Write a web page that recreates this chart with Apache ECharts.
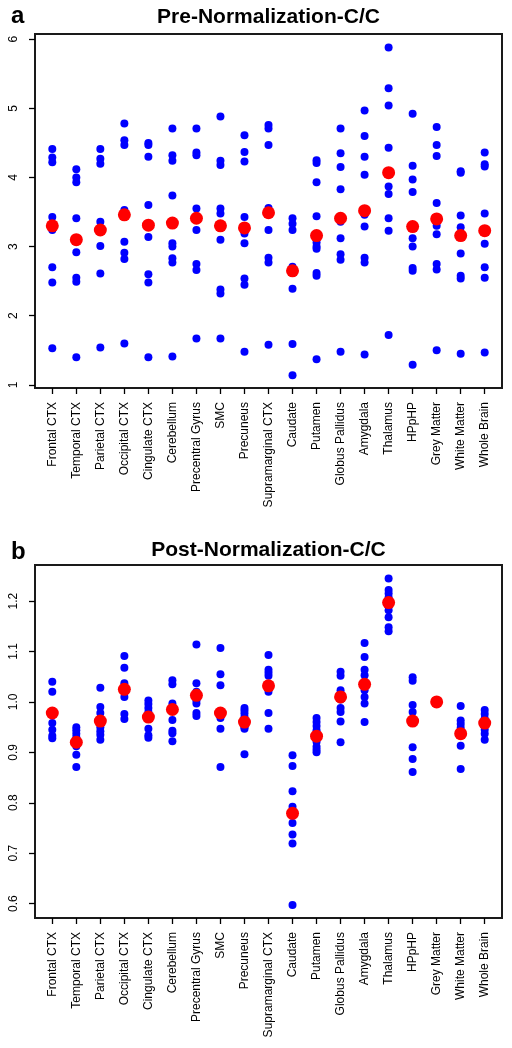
<!DOCTYPE html>
<html>
<head>
<meta charset="utf-8">
<script src="https://cdn.jsdelivr.net/npm/echarts@6/dist/echarts.min.js"></script>
<style>
html,body{margin:0;padding:0;background:#fff;}
#chart{width:512px;height:1048px;}
</style>
</head>
<body>
<div id="chart"></div>
<script>
var categories = ['Frontal CTX','Temporal CTX','Parietal CTX','Occipital CTX','Cingulate CTX','Cerebellum','Precentral Gyrus','SMC','Precuneus','Supramarginal CTX','Caudate','Putamen','Globus Pallidus','Amygdala','Thalamus','HPpHP','Grey Matter','White Matter','Whole Brain'];

var preTitle = 'Pre-Normalization-C/C';
var postTitle = 'Post-Normalization-C/C';

var preSubjects = [
  [4.41, 4.29, 4.22, 3.43, 3.24, 2.70, 2.48, 1.53],
  [4.12, 4.00, 3.93, 3.41, 2.92, 2.55, 2.49, 1.40],
  [4.41, 4.27, 4.20, 3.36, 3.22, 3.01, 2.61, 1.54],
  [4.78, 4.54, 4.47, 3.53, 3.07, 2.91, 2.82, 1.60],
  [4.50, 4.47, 4.30, 3.60, 3.14, 2.60, 2.48, 1.40],
  [4.71, 4.32, 4.24, 3.74, 3.05, 3.00, 2.83, 2.77, 1.41],
  [4.71, 4.36, 4.32, 3.55, 3.24, 2.75, 2.66, 1.67],
  [4.88, 4.24, 4.18, 3.55, 3.48, 3.10, 2.38, 2.32, 1.67],
  [4.61, 4.37, 4.23, 3.43, 3.19, 3.05, 2.54, 2.45, 1.48],
  [4.76, 4.71, 4.47, 3.56, 3.24, 2.84, 2.77, 1.58],
  [3.41, 3.33, 3.24, 2.71, 2.39, 1.59, 1.14],
  [4.25, 4.21, 3.93, 3.44, 3.06, 3.00, 2.97, 2.62, 2.58, 1.37],
  [4.71, 4.35, 4.15, 3.83, 3.36, 3.12, 2.89, 2.81, 1.48],
  [4.97, 4.60, 4.30, 4.04, 3.46, 3.29, 2.84, 2.77, 1.44],
  [5.88, 5.29, 5.04, 4.43, 3.87, 3.76, 3.41, 3.23, 1.72],
  [4.92, 4.17, 3.97, 3.79, 3.12, 3.00, 2.69, 2.65, 1.29],
  [4.73, 4.47, 4.31, 3.63, 3.30, 3.18, 2.75, 2.67, 1.50],
  [4.09, 4.07, 3.45, 3.28, 2.90, 2.58, 2.54, 1.45],
  [4.36, 4.19, 4.16, 3.48, 3.04, 2.70, 2.55, 1.47]
];
var preMeans = [3.30, 3.10, 3.24, 3.46, 3.31, 3.34, 3.41, 3.30, 3.27, 3.49, 2.65, 3.16, 3.41, 3.52, 4.07, 3.29, 3.40, 3.16, 3.23];

var postSubjects = [
  [1.040, 1.020, 0.978, 0.958, 0.945, 0.933, 0.928],
  [0.950, 0.944, 0.937, 0.930, 0.924, 0.912, 0.895, 0.871],
  [1.028, 0.990, 0.978, 0.962, 0.950, 0.942, 0.935, 0.925],
  [1.091, 1.068, 1.037, 1.020, 1.010, 0.976, 0.966],
  [1.003, 0.996, 0.988, 0.980, 0.970, 0.947, 0.934, 0.929],
  [1.043, 1.035, 0.997, 0.988, 0.964, 0.943, 0.938, 0.922],
  [1.114, 1.037, 1.020, 1.003, 0.997, 0.978, 0.972],
  [1.107, 1.055, 1.033, 0.978, 0.968, 0.947, 0.871],
  [0.988, 0.983, 0.977, 0.970, 0.960, 0.950, 0.947, 0.896],
  [1.093, 1.064, 1.058, 1.052, 1.035, 1.020, 0.978, 0.947],
  [0.894, 0.873, 0.823, 0.792, 0.780, 0.760, 0.737, 0.719, 0.597],
  [0.968, 0.960, 0.952, 0.944, 0.932, 0.921, 0.911, 0.905, 0.900],
  [1.060, 1.052, 1.023, 1.016, 1.005, 0.988, 0.980, 0.961, 0.920],
  [1.117, 1.089, 1.064, 1.053, 1.040, 1.023, 1.010, 0.997, 0.960],
  [1.245, 1.222, 1.215, 1.207, 1.190, 1.182, 1.168, 1.148, 1.140],
  [1.049, 1.042, 0.994, 0.980, 0.965, 0.910, 0.887, 0.861],
  [1.000, 1.000, 1.000, 1.000, 1.000, 1.000, 1.000, 1.000, 1.000],
  [0.992, 0.963, 0.956, 0.949, 0.940, 0.913, 0.867],
  [0.984, 0.976, 0.967, 0.955, 0.945, 0.937, 0.925]
];
var postMeans = [0.978, 0.920, 0.962, 1.025, 0.970, 0.985, 1.013, 0.978, 0.960, 1.032, 0.779, 0.932, 1.010, 1.035, 1.197, 0.962, 1.000, 0.937, 0.958];

var preTicks = [1, 2, 3, 4, 5, 6];
var postTicks = [0.6, 0.7, 0.8, 0.9, 1.0, 1.1, 1.2];

var FONT = 'Liberation Sans, Arial, Helvetica, sans-serif';
var catPositions = categories.map(function (c, i) { return i + 1; });

function pointsOf(lists) {
  var out = [];
  lists.forEach(function (arr, i) {
    arr.forEach(function (v) { out.push([i + 1, v]); });
  });
  return out;
}
function meansOf(arr) {
  return arr.map(function (v, i) { return [i + 1, v]; });
}

function xAxisFor(gridIndex) {
  return {
    type: 'value', gridIndex: gridIndex, min: 0.28, max: 19.72,
    axisLine: { show: false },
    splitLine: { show: false },
    axisTick: { show: true, customValues: catPositions, length: 6, lineStyle: { color: '#000', width: 1.3 } },
    axisLabel: {
      customValues: catPositions, rotate: 90, margin: 14,
      fontSize: 12, fontFamily: FONT, color: '#000',
      formatter: function (v) { return categories[Math.round(v) - 1]; }
    }
  };
}
function yAxisFor(gridIndex, min, max, ticks, fmt) {
  return {
    type: 'value', gridIndex: gridIndex, min: min, max: max,
    axisLine: { show: false },
    splitLine: { show: false },
    axisTick: { show: true, customValues: ticks, length: 6, lineStyle: { color: '#000', width: 1.3 } },
    axisLabel: {
      customValues: ticks, rotate: 90, margin: 15,
      fontSize: 12, fontFamily: FONT, color: '#000',
      formatter: fmt
    }
  };
}

var chart = echarts.init(document.getElementById('chart'), null, { renderer: 'canvas' });
chart.setOption({
  animation: false,
  backgroundColor: '#fff',
  grid: [
    { left: 35, top: 34, width: 467, height: 354, show: true, borderColor: '#1a1a1a', borderWidth: 2, backgroundColor: 'transparent' },
    { left: 35, top: 565, width: 467, height: 353, show: true, borderColor: '#1a1a1a', borderWidth: 2, backgroundColor: 'transparent' }
  ],
  xAxis: [xAxisFor(0), xAxisFor(1)],
  yAxis: [
    yAxisFor(0, 0.955, 6.075, preTicks, function (v) { return String(Math.round(v)); }),
    yAxisFor(1, 0.5714, 1.2716, postTicks, function (v) { return v.toFixed(1); })
  ],
  series: [
    { type: 'scatter', xAxisIndex: 0, yAxisIndex: 0, data: pointsOf(preSubjects), symbolSize: 8, itemStyle: { color: '#0000ff', opacity: 1 }, z: 2 },
    { type: 'scatter', xAxisIndex: 0, yAxisIndex: 0, data: meansOf(preMeans), symbolSize: 13, itemStyle: { color: '#ff0000', opacity: 1 }, z: 3 },
    { type: 'scatter', xAxisIndex: 1, yAxisIndex: 1, data: pointsOf(postSubjects), symbolSize: 8, itemStyle: { color: '#0000ff', opacity: 1 }, z: 2 },
    { type: 'scatter', xAxisIndex: 1, yAxisIndex: 1, data: meansOf(postMeans), symbolSize: 13, itemStyle: { color: '#ff0000', opacity: 1 }, z: 3 }
  ],
  graphic: [
    { type: 'text', x: 268.5, y: 17.7, style: { text: preTitle, fontSize: 21, fontWeight: 'bold', fontFamily: FONT, fill: '#000', align: 'center', verticalAlign: 'middle' } },
    { type: 'text', x: 268.5, y: 550.7, style: { text: postTitle, fontSize: 21, fontWeight: 'bold', fontFamily: FONT, fill: '#000', align: 'center', verticalAlign: 'middle' } },
    { type: 'text', x: 11, y: 16.7, style: { text: 'a', fontSize: 24, fontWeight: 'bold', fontFamily: FONT, fill: '#000', align: 'left', verticalAlign: 'middle' } },
    { type: 'text', x: 11, y: 552.5, style: { text: 'b', fontSize: 24, fontWeight: 'bold', fontFamily: FONT, fill: '#000', align: 'left', verticalAlign: 'middle' } }
  ]
});
</script>
</body>
</html>
